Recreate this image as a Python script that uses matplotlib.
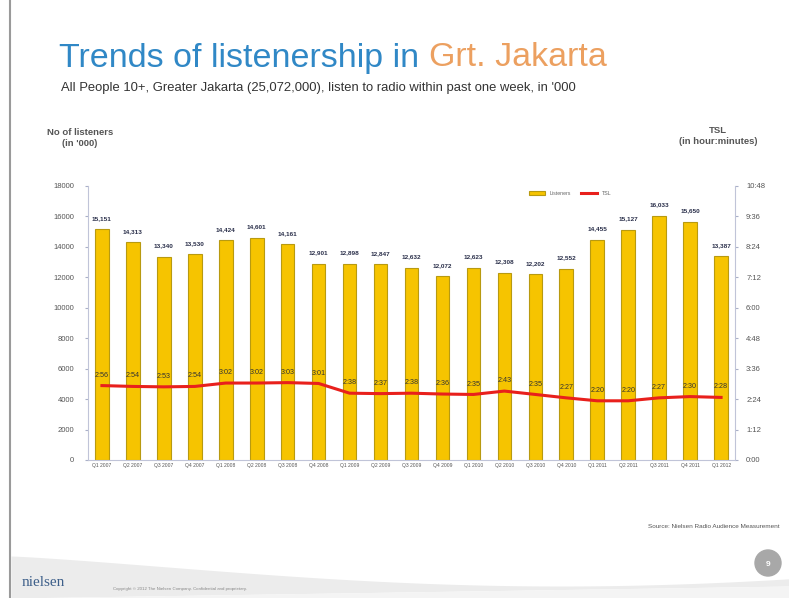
import numpy as np
import matplotlib.pyplot as plt
from matplotlib.ticker import FuncFormatter
from matplotlib.patches import Circle

plt.rcParams['font.family'] = ['Liberation Sans', 'DejaVu Sans']

quarters = ['Q1 2007', 'Q2 2007', 'Q3 2007', 'Q4 2007',
            'Q1 2008', 'Q2 2008', 'Q3 2008', 'Q4 2008',
            'Q1 2009', 'Q2 2009', 'Q3 2009', 'Q4 2009',
            'Q1 2010', 'Q2 2010', 'Q3 2010', 'Q4 2010',
            'Q1 2011', 'Q2 2011', 'Q3 2011', 'Q4 2011',
            'Q1 2012']
listeners = [15151, 14313, 13340, 13530, 14424, 14601, 14161, 12901,
             12898, 12847, 12632, 12072, 12623, 12308, 12202, 12552,
             14455, 15127, 16033, 15650, 13387]
# time spent listening, minutes
tsl = [176, 174, 173, 174, 182, 182, 183, 181,
       158, 157, 158, 156, 155, 163, 155, 147,
       140, 140, 147, 150, 148]


def hm(m, pos=None):
    m = int(round(m))
    return '%d:%02d' % (m // 60, m % 60)


fig = plt.figure(figsize=(7.89, 5.98), dpi=100)

# slide background: left rule and bottom swoosh
bg = fig.add_axes([0, 0, 1, 1], zorder=-5)
bg.set_xlim(0, 789)
bg.set_ylim(598, 0)
bg.axis('off')
bg.plot([10, 10], [0, 598], color='#9a9a9a', lw=1.5)
xs = np.linspace(11, 789, 200)
top = 556 + 30 * np.sin(np.pi * (xs - 11) / 1100) ** 1.2
bot = 598 - 12 * ((xs - 11) / 778)
bg.fill_between(xs, top, bot, color='#ececec', lw=0)
bg.fill_between(xs, bot, 598, color='#f4f4f4', lw=0)
bg.add_patch(Circle((768, 563), 13, color='#a8a8a8', zorder=2))
bg.text(768, 564, '9', color='white', fontsize=6, ha='center', va='center',
        fontweight='bold', zorder=3)
bg.text(22, 583, 'nielsen', color='#3d5f8a', fontsize=11,
        family=['Liberation Serif', 'DejaVu Serif'], va='center')
bg.text(113, 589, 'Copyright \u00a9 2012 The Nielsen Company. Confidential and proprietary.',
        color='#888888', fontsize=3.2, va='center')
bg.text(780, 527, 'Source: Nielsen Radio Audience Measurement', color='#555555',
        fontsize=4.6, ha='right', va='center')

# title and subtitle
t1 = fig.text(59 / 789, 1 - 58 / 598, 'Trends of listenership in ', color='#3088c6',
              fontsize=24.5, va='center')
fig.canvas.draw()
bb = t1.get_window_extent()
fig.text(bb.x1 / 789, 1 - 58 / 598, 'Grt. Jakarta', color='#eca060',
         fontsize=24.5, va='center')
fig.text(61 / 789, 1 - 88 / 598,
         "All People 10+, Greater Jakarta (25,072,000), listen to radio within past one week, in '000",
         color='#333333', fontsize=9.4, va='center')

fig.text(80 / 789, 1 - 138 / 598, "No of listeners\n(in '000)", color='#555555',
         fontsize=6.8, fontweight='bold', ha='center', va='center', linespacing=1.3)
fig.text(718 / 789, 1 - 136 / 598, "TSL\n(in hour:minutes)", color='#555555',
         fontsize=6.8, fontweight='bold', ha='center', va='center', linespacing=1.3)

ax = fig.add_axes([88 / 789, 1 - 460 / 598, (735 - 88) / 789, (460 - 186) / 598])
x = np.arange(len(quarters))
bars = ax.bar(x, listeners, width=0.44, color='#f6c400', edgecolor='#b89a10',
              linewidth=0.8, label='Listeners', zorder=2)
ax.set_xlim(-0.45, len(quarters) - 0.55)
ax.set_ylim(0, 18000)
ax.set_yticks(range(0, 18001, 2000))
ax.set_xticks(x)
ax.set_xticklabels(quarters, fontsize=3.6, color='#555555')
ax.tick_params(axis='y', labelsize=5.5, labelcolor='#555555', length=2,
               color='#aab0c8', pad=8)
ax.tick_params(axis='x', length=0, pad=2)
for s in ['top', 'right']:
    ax.spines[s].set_visible(False)
ax.spines['left'].set_color('#c0c4d8')
ax.spines['bottom'].set_color('#c0c4d8')
ax.spines['left'].set_linewidth(0.8)
ax.spines['bottom'].set_linewidth(0.8)

for xi, v in zip(x, listeners):
    ax.annotate('{:,}'.format(v), (xi, v), xytext=(0, 6), textcoords='offset points',
                ha='center', va='bottom', fontsize=4.6, color='#2a2f4a', fontweight='bold')

ax2 = ax.twinx()
ax2.set_ylim(0, 648)
ax2.set_yticks(range(0, 649, 72))
ax2.yaxis.set_major_formatter(FuncFormatter(hm))
ax2.tick_params(axis='y', labelsize=5.5, labelcolor='#555555', length=2,
                color='#aab0c8', pad=6)
for s in ['top', 'left', 'bottom']:
    ax2.spines[s].set_visible(False)
ax2.spines['right'].set_color('#c0c4d8')
ax2.spines['right'].set_linewidth(0.8)
line, = ax2.plot(x, tsl, color='#e8201c', lw=2.2, label='TSL', zorder=3)
for xi, v in zip(x, tsl):
    ax2.annotate(hm(v), (xi, v), xytext=(0, 5), textcoords='offset points',
                 ha='center', va='bottom', fontsize=5.2, color='#333333')

leg = ax2.legend([bars, line], ['Listeners', 'TSL'], loc='upper left',
                 bbox_to_anchor=(0.675, 1.0), ncol=2, fontsize=3.8, frameon=False,
                 handlelength=3, handleheight=0.6, columnspacing=2)
for t in leg.get_texts():
    t.set_color('#666666')

fig.savefig('out.png', dpi=100)
